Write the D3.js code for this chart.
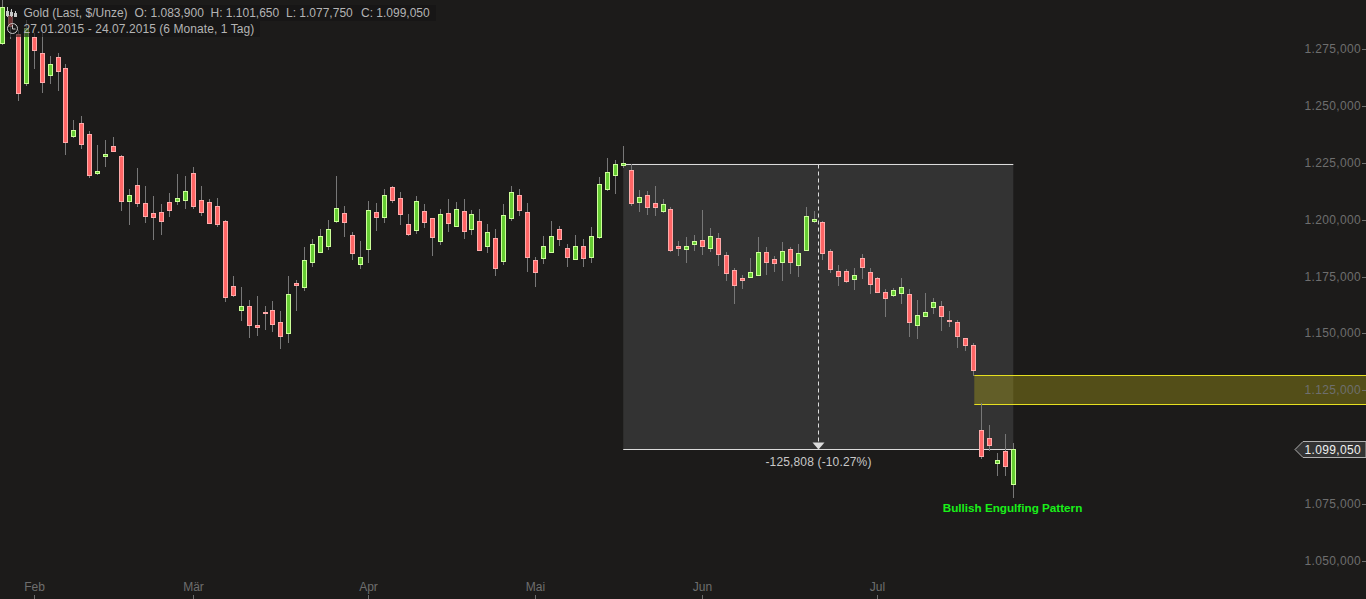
<!DOCTYPE html>
<html><head><meta charset="utf-8">
<style>html,body{margin:0;padding:0;background:#1c1b1a;overflow:hidden}svg{display:block}text{font-family:"Liberation Sans",Arial,sans-serif}</style>
<script src="https://cdn.jsdelivr.net/npm/d3@7"></script>
</head><body><svg id="c" width="1366" height="599"></svg>
<script>
const opens=[1277.7,1289.9,1281.5,1260.1,1280.2,1273.3,1263.6,1271.5,1266.7,1236.8,1242.5,1237.6,1220.5,1228,1232.4,1228,1208.2,1215.2,1207.4,1203,1203.4,1207.8,1208.2,1208.7,1220.5,1208.7,1207.8,1206,
1199.4,1170.9,1160.3,1162.1,1153.7,1159.4,1160.3,1155,1150.2,1172.2,1170.4,1181.4,1185.8,1188.4,1199.4,1203,1193.3,1180.5,1187.1,1203.4,1201.2,1214.4,1209.5,1198.1,1195.5,1203.8,1200.8,1190.6,1203,1197.2,
1203.8,1195.9,1199.4,1188.4,1192,1181.9,1200.8,1210.8,1203.4,1182.3,1183.2,1185.8,1195.9,1187.6,1182.7,1188.4,1183.6,1192.4,1213.4,1219.6,1224,1221.8,1207.8,1210.8,1207.4,1203.8,1204.7,1188.4,1187.1,1189.3,
1191.1,1187.6,1192,1184.5,1177.9,1174.4,1174.8,1175.7,1185.8,1182.7,1181.4,1187.1,1180.1,1186.7,1199.4,1199,1186.3,1177.5,1177.5,1174,1183.2,1177,1174.4,1168.2,1166.9,1167.8,1167.3,1153.7,1157.7,1161.6,
1162.1,1155.9,1155,1148,1144.9,1107.6,1104.1,1093.1,1098.4,1083.9];
const highs=[1296.5,1292.1,1283.3,1287.7,1282,1283.3,1272,1273.3,1268.4,1243.8,1245.6,1239,1232.8,1235,1236.3,1228.4,1213.4,1222.7,1214.8,1210.4,1206.9,1211.7,1220,1219.2,1223.1,1214.8,1209.1,1209.5,
1200,1175.2,1170.4,1164.7,1166.5,1162.1,1164.3,1159.9,1175.2,1173.5,1188,1191.5,1195.9,1199.9,1219.2,1206,1194.6,1190.6,1208.2,1207.4,1213.4,1214.8,1212.2,1202.5,1210.4,1206.9,1200.8,1204.7,1209.1,1207.8,
1209.1,1204.3,1204.7,1198.1,1195.9,1206.9,1214.8,1213.4,1207.4,1183.6,1192.8,1199.4,1197.2,1189.3,1193.3,1191.5,1196.8,1218.8,1227.1,1226.2,1232.4,1224.5,1213,1212.6,1214.8,1209.1,1205.6,1190.6,1192.4,1193.3,
1204.3,1196.3,1194.2,1185.8,1178.8,1175.7,1183.2,1192.4,1188,1184,1190.2,1188,1189.3,1205.6,1203.8,1199.4,1187.1,1180.1,1178.3,1178.8,1185,1178.8,1174.8,1169.5,1170,1174.4,1169.5,1164.7,1167.8,1165.6,
1164.3,1159.9,1155.9,1148,1145.8,1119.5,1109.8,1097.5,1106,1101.65];
const lows=[1276.8,1279.3,1252.2,1258.8,1266.2,1255.7,1259.6,1256.6,1228.4,1235.9,1231,1218.3,1219.6,1223.1,1229.7,1203.8,1197.7,1205.6,1198.6,1191.1,1193.3,1201.2,1206.4,1204.7,1204.7,1201.7,1198.6,1196.8,
1163.8,1166,1155.5,1148,1148.9,1151.5,1150.6,1143.1,1145.8,1159.9,1168.7,1179.2,1185.8,1186.7,1198.6,1192.4,1182.3,1178.3,1181,1195,1198.6,1207.4,1197.7,1192.8,1193.7,1196.3,1184,1188.9,1194.6,1197.2,
1191.5,1193.3,1186.3,1185.4,1175.2,1180.1,1199.4,1201.7,1177,1170.4,1180.5,1185.8,1188.4,1179.2,1182.3,1179.2,1181,1191.5,1212.6,1211.3,1222.7,1206,1203.4,1202.1,1201.7,1203,1185.8,1184,1181,1186.3,
1184.5,1185.8,1179.7,1173.1,1163,1169.5,1174.8,1175.2,1175.7,1177,1173.1,1176.1,1174.8,1186.7,1198.6,1182.3,1176.6,1170.9,1172.2,1169.1,1174,1167.4,1167.8,1157.2,1166,1163,1148.5,1147.6,1157.7,1158.5,
1151.1,1152.8,1143.6,1142.3,1131.3,1094.8,1098.4,1087.4,1087.4,1077.75];
const closes=[1293.4,1285.1,1255.7,1284.2,1274.6,1260.5,1268.4,1265.4,1234.1,1239.4,1233.2,1219.6,1221.4,1228.8,1230.2,1208.2,1210.8,1207.4,1201.7,1201.2,1199.4,1204.3,1209.5,1212.6,1206,1203.4,1198.6,1198.1,
1166,1166.9,1162.1,1153.7,1152.8,1159,1154.1,1148.9,1167.3,1171.3,1182.3,1189.3,1192.8,1195.9,1205.1,1199,1185.4,1183.6,1204.3,1201.2,1210.8,1208.7,1202.5,1193.7,1208.2,1199,1192.4,1202.5,1198.6,1204.7,
1195,1202.5,1186.7,1194.6,1178.8,1202,1212.2,1204.3,1183.6,1177,1188.4,1192.8,1191.5,1183.6,1188.4,1183.2,1192.8,1215.7,1221,1224.5,1224.9,1207.4,1210,1205.6,1205.6,1206.9,1186.7,1187.6,1188.4,1190.6,
1188.4,1192.8,1185,1176.6,1171.3,1173.5,1177,1185.8,1181.4,1181,1186.3,1181.4,1185.4,1201.7,1200.3,1185.4,1178.3,1175.2,1173.1,1175.7,1179.2,1171.7,1168.2,1165.6,1169.1,1170.4,1155,1158.1,1159.4,1163.8,
1157.7,1155.5,1148.9,1144.9,1134,1096.1,1101,1094.4,1091.8,1099.05];
const priceTicks=[1275,1250,1225,1200,1175,1150,1125,1075,1050];
const monthLabels=["Feb","Mär","Apr","Mai","Jun","Jul"];
const monthIndex=[4,24,46,67,88,110];
const headerTitle="Gold (Last, $/Unze)";
const headerOHLC=["O: 1.083,900","H: 1.101,650","L: 1.077,750","C: 1.099,050"];
const headerRange="27.01.2015 - 24.07.2015 (6 Monate, 1 Tag)";
const measureTop=1224.6, measureBottom=1099.05, measureStart=78, measureEnd=127, measureMid=102.5;
const measureLabel="-125,808 (-10.27%)";
const zoneTop=1131.6, zoneBottom=1118.8, zoneStart=122.1;
const lastPrice="1.099,050";
const patternLabel="Bullish Engulfing Pattern";

const svg=d3.select("#c");
const x=d3.scaleLinear().domain([0,127]).range([2.3,1013.3]);
const y=d3.scaleLinear().domain([1275,1050]).range([49,561]);
const cx=i=>Math.floor(x(i))+.5, cy=v=>Math.round(y(v))+.5;
const fmt=v=>d3.format(",")(v).replace(",",".")+",000";
svg.append("rect").attr("width",1366).attr("height",599).attr("fill","#1c1b1a");

// measurement box
svg.append("rect").attr("x",x(measureStart)).attr("y",y(measureTop)).attr("width",x(measureEnd)-x(measureStart)).attr("height",y(measureBottom)-y(measureTop)).attr("fill","#333333");

// zone
svg.append("rect").attr("x",x(zoneStart)).attr("y",cy(zoneTop)).attr("width",1366-x(zoneStart)).attr("height",cy(zoneBottom)-cy(zoneTop)).attr("fill","rgba(190,180,20,0.34)");
for(const v of [zoneTop,zoneBottom])svg.append("line").attr("x1",x(zoneStart)).attr("x2",1366).attr("y1",cy(v)).attr("y2",cy(v)).attr("stroke","#e6e020");

// measure lines
for(const v of [measureTop,measureBottom])svg.append("line").attr("x1",x(measureStart)).attr("x2",x(measureEnd)).attr("y1",cy(v)).attr("y2",cy(v)).attr("stroke","#dcdcdc");
const mx=cx(measureMid);
svg.append("line").attr("x1",mx).attr("x2",mx).attr("y1",cy(measureTop)).attr("y2",cy(measureBottom)-6).attr("stroke","#dcdcdc").attr("stroke-dasharray","4,3");
svg.append("path").attr("d",`M${mx-6},${cy(measureBottom)-7}L${mx+6},${cy(measureBottom)-7}L${mx},${cy(measureBottom)}Z`).attr("fill","#dcdcdc");
svg.append("text").attr("x",mx).attr("y",cy(measureBottom)+16).attr("text-anchor","middle").attr("font-size",12).attr("letter-spacing",.15).attr("fill","#c8c8c8").text(measureLabel);

// candles
const idx=d3.range(opens.length);
svg.append("g").selectAll("line").data(idx).join("line")
 .attr("x1",cx).attr("x2",cx).attr("y1",i=>Math.round(y(highs[i]))).attr("y2",i=>Math.round(y(lows[i])))
 .attr("stroke","#777").attr("shape-rendering","crispEdges");
svg.append("g").selectAll("rect").data(idx).join("rect")
 .attr("x",i=>cx(i)-2).attr("width",4)
 .attr("y",i=>cy(Math.max(opens[i],closes[i])))
 .attr("height",i=>Math.max(1,cy(Math.min(opens[i],closes[i]))-cy(Math.max(opens[i],closes[i]))))
 .attr("fill",i=>closes[i]>=opens[i]?"#66cc33":"#ff6666")
 .attr("stroke",i=>closes[i]>=opens[i]?"#ccff99":"#ffaaaa")
 .attr("shape-rendering","crispEdges");

// header
svg.append("rect").attr("x",5).attr("y",5).attr("width",431).attr("height",16).attr("fill","rgba(20,20,20,0.6)");
svg.append("rect").attr("x",5).attr("y",21).attr("width",255).attr("height",16).attr("fill","rgba(20,20,20,0.6)");
const hdr=svg.append("g").attr("font-size",12).attr("fill","#b4b4b4");
hdr.append("text").attr("x",23.5).attr("y",17).text(headerTitle);
const hdrX=[134.5,210.5,286,361];
headerOHLC.forEach((t,i)=>hdr.append("text").attr("x",hdrX[i]).attr("y",17).text(t));
hdr.append("text").attr("x",23.5).attr("y",33).attr("letter-spacing",.07).text(headerRange);
// header icons
const ic=svg.append("g").attr("fill","none").attr("stroke","#c8c8c8").attr("shape-rendering","crispEdges");
[[7.5,7,17],[11.5,9,17],[15.5,11,17]].forEach(d=>{ic.append("line").attr("x1",d[0]).attr("x2",d[0]).attr("y1",d[1]).attr("y2",d[2]);});
ic.append("path").attr("d","M6.5,11.5h2v4h-2zM10.5,12.5h2v3h-2zM14.5,13.5h2v3h-2z");
svg.append("circle").attr("cx",12.5).attr("cy",28.5).attr("r",5).attr("fill","none").attr("stroke","#c8c8c8");
svg.append("path").attr("d","M12.5,25v4h3").attr("fill","none").attr("stroke","#c8c8c8");

// y axis
const yAxis=svg.append("g").attr("font-size",12).attr("letter-spacing",.35).attr("fill","#6e6e6e");
priceTicks.forEach(v=>{
 yAxis.append("text").attr("x",1361).attr("y",y(v)+4).attr("text-anchor","end").text(fmt(v));
 yAxis.append("line").attr("x1",1362).attr("x2",1366).attr("y1",cy(v)).attr("y2",cy(v)).attr("stroke","#6e6e6e");
});
// x axis
const xAxis=svg.append("g").attr("font-size",12).attr("fill","#6e6e6e");
monthIndex.forEach((m,i)=>{
 xAxis.append("text").attr("x",cx(m)).attr("y",591).attr("text-anchor","middle").text(monthLabels[i]);
 xAxis.append("line").attr("x1",cx(m)).attr("x2",cx(m)).attr("y1",595).attr("y2",599).attr("stroke","#6e6e6e");
});
// last price tag
const ly=cy(measureBottom);
svg.append("path").attr("d",`M1295,${ly}L1303,${ly-8}H1366V${ly+8}H1303Z`).attr("fill","#333").attr("stroke","#b0b0b0");
svg.append("text").attr("x",1361).attr("y",ly+4).attr("text-anchor","end").attr("font-size",12).attr("letter-spacing",.35).attr("fill","#f0f0f0").text(lastPrice);
// pattern
svg.append("text").attr("x",1012.5).attr("y",512).attr("text-anchor","middle").attr("font-size",11.7).attr("font-weight","bold").attr("fill","#19f019").text(patternLabel);
</script></body></html>
